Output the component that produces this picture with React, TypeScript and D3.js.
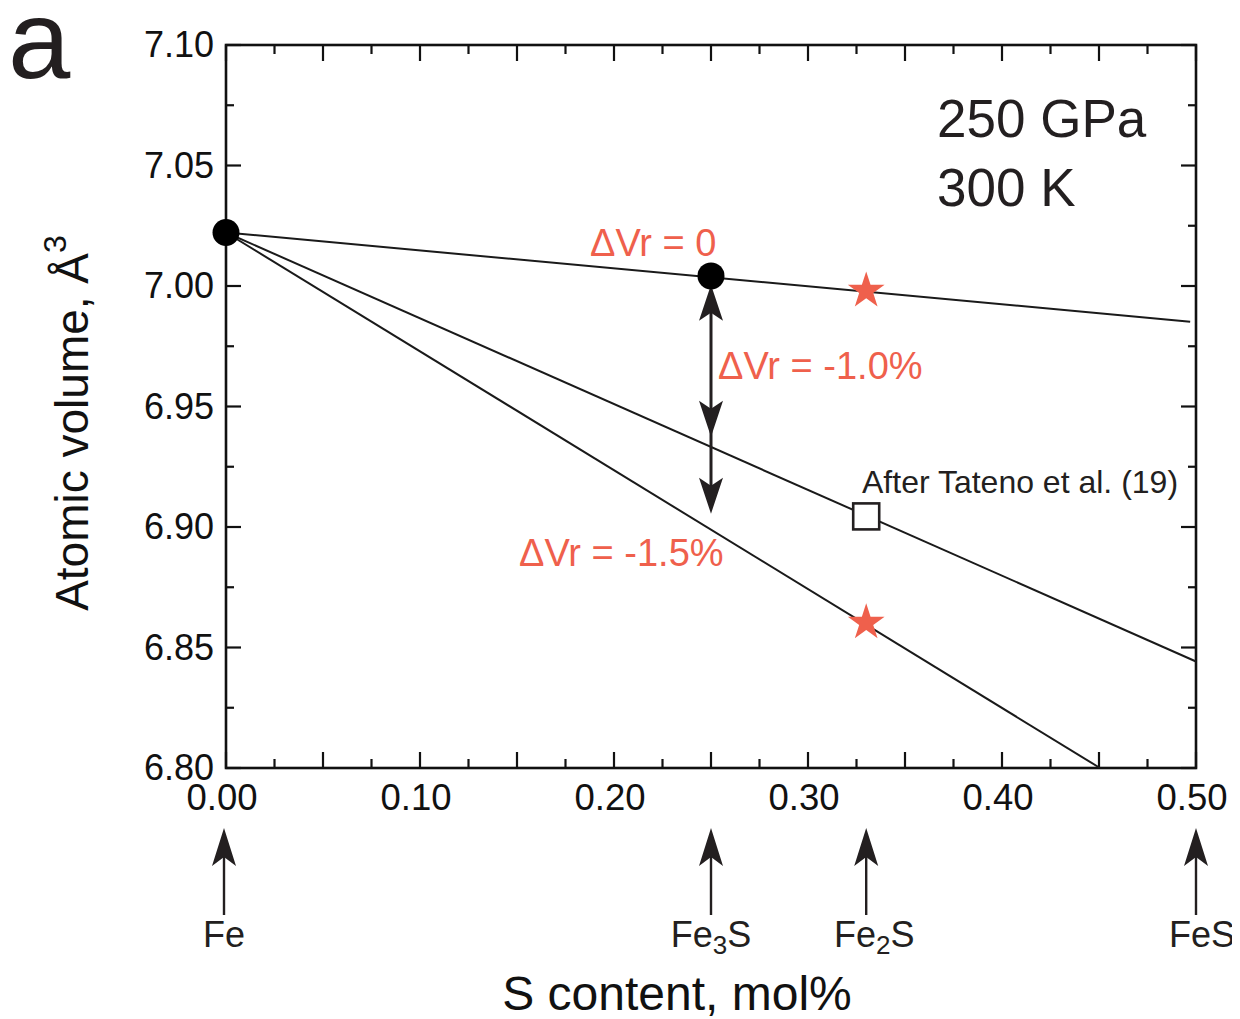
import React from "react";
import * as d3 from "d3";

// ---- data ----
const xDomain = [0, 0.5];
const yDomain = [6.8, 7.1];
const xMajorTicks = [0, 0.1, 0.2, 0.3, 0.4, 0.5];
const yMajorTicks = [6.8, 6.85, 6.9, 6.95, 7.0, 7.05, 7.1];

// lines: [x, y] endpoints
const lineZero = [[0, 7.0222], [0.497, 6.9852]];
const lineTateno = [[0, 7.0222], [0.5, 6.8442]];
const lineMinus15 = [[0, 7.0222], [0.4505, 6.8]];

const circlePoints = [[0, 7.0222], [0.25, 7.0042]];
const starPoints = [[0.33, 6.998], [0.33, 6.8603]];
const squarePoints = [[0.33, 6.9044]];

// double arrow at Fe3S: top tip, middle tip, bottom tip
const arrowX = 0.25;
const arrowTop = 7.0005;
const arrowMid = 6.9375;
const arrowBottom = 6.9055;

const compounds = [
  { x: 0, name: "Fe", sub: "" },
  { x: 0.25, name: "Fe", sub: "3", after: "S" },
  { x: 0.33, name: "Fe", sub: "2", after: "S" },
  { x: 0.5, name: "FeS", sub: "" },
];

const RED = "#EF604C";
const FONT = "'Liberation Sans', Arial, Helvetica, sans-serif";

function arrowHead(tipX: number, tipY: number, dir: number, len = 36, w = 24, notch = 8) {
  // dir: -1 pointing up, +1 pointing down
  const p = d3.path();
  p.moveTo(tipX, tipY);
  p.lineTo(tipX + w / 2, tipY - dir * len);
  p.lineTo(tipX, tipY - dir * (len - notch));
  p.lineTo(tipX - w / 2, tipY - dir * len);
  p.closePath();
  return p.toString();
}

export default function App() {
  const W = 1240, H = 1019;
  const x = d3.scaleLinear().domain(xDomain).range([226, 1196]);
  const y = d3.scaleLinear().domain(yDomain).range([768, 45]);
  const line = d3.line<number[]>().x((d) => x(d[0])).y((d) => y(d[1]));

  const xMinor = d3.range(0, 0.5001, 0.025);
  const yMinor = d3.range(6.8, 7.1001, 0.025);
  const isMajorX = (v: number) => Math.abs(v / 0.05 - Math.round(v / 0.05)) < 1e-6;
  const isMajorY = (v: number) => Math.abs((v - 6.8) / 0.05 - Math.round((v - 6.8) / 0.05)) < 1e-6;

  const star = d3.symbol().type(d3.symbolStar).size(420)();

  const ax = x(arrowX);

  return (
    <svg width={W} height={H} style={{ display: "block", marginTop: -8, marginLeft: -8 }} fontFamily={FONT}>
      <rect width={W} height={H} fill="white" />
      <text x={8} y={78} fontSize={112} fill="#231f20">a</text>

      {/* ticks */}
      {xMinor.map((v, i) => {
        const len = isMajorX(v) ? 16 : 9;
        return (
          <g key={"xt" + i} stroke="#111" strokeWidth={2.2}>
            <line x1={x(v)} x2={x(v)} y1={768} y2={768 - len} />
            <line x1={x(v)} x2={x(v)} y1={45} y2={45 + len} />
          </g>
        );
      })}
      {yMinor.map((v, i) => {
        const len = isMajorY(v) ? 15 : 8;
        return (
          <g key={"yt" + i} stroke="#111" strokeWidth={2.2}>
            <line x1={226} x2={226 + len} y1={y(v)} y2={y(v)} />
            <line x1={1196} x2={1196 - len} y1={y(v)} y2={y(v)} />
          </g>
        );
      })}
      {/* frame */}
      <rect x={226} y={45} width={970} height={723} fill="none" stroke="#111" strokeWidth={2.6} />

      {/* tick labels */}
      {xMajorTicks.map((v) => (
        <text key={"xl" + v} x={x(v) - 4} y={810} fontSize={36.5} textAnchor="middle" fill="#111">
          {v.toFixed(2)}
        </text>
      ))}
      {yMajorTicks.map((v) => (
        <text key={"yl" + v} x={214} y={y(v) + 12} fontSize={36} textAnchor="end" fill="#111">
          {v.toFixed(2)}
        </text>
      ))}

      {/* data lines */}
      {[lineZero, lineTateno, lineMinus15].map((l, i) => (
        <path key={"l" + i} d={line(l) || ""} fill="none" stroke="#1a1a1a" strokeWidth={2} />
      ))}

      {/* double arrow */}
      <line x1={ax} x2={ax} y1={y(arrowTop) + 20} y2={y(arrowBottom) - 20} stroke="#231f20" strokeWidth={3} />
      <path d={arrowHead(ax, y(arrowTop), -1)} fill="#231f20" />
      <path d={arrowHead(ax, y(arrowMid), 1)} fill="#231f20" />
      <path d={arrowHead(ax, y(arrowBottom), 1)} fill="#231f20" />

      {/* markers */}
      {circlePoints.map((p, i) => (
        <circle key={"c" + i} cx={x(p[0])} cy={y(p[1])} r={13.5} fill="#000" />
      ))}
      {starPoints.map((p, i) => (
        <path key={"s" + i} d={star || ""} transform={`translate(${x(p[0])},${y(p[1])})`} fill={RED} />
      ))}
      {squarePoints.map((p, i) => (
        <rect key={"q" + i} x={x(p[0]) - 13} y={y(p[1]) - 13} width={26} height={26} fill="white" stroke="#231f20" strokeWidth={2.6} />
      ))}

      {/* annotations */}
      <text x={590} y={256} fontSize={38} fill={RED}>ΔVr = 0</text>
      <text x={718} y={379} fontSize={38} fill={RED}>ΔVr = -1.0%</text>
      <text x={519} y={566} fontSize={38} fill={RED}>ΔVr = -1.5%</text>
      <text x={862} y={493} fontSize={32} fill="#231f20">After Tateno et al. (19)</text>
      <text x={937} y={137} fontSize={53} fill="#231f20">250 GPa</text>
      <text x={937} y={206} fontSize={53} fill="#231f20">300 K</text>

      {/* compound arrows */}
      {compounds.map((c, i) => {
        const cx = x(c.x) - (i === 0 ? 2 : 0);
        return (
          <g key={"cmp" + i}>
            <line x1={cx} x2={cx} y1={915} y2={850} stroke="#231f20" strokeWidth={2.4} />
            <path d={arrowHead(cx, 828, -1, 38, 24, 9)} fill="#231f20" />
            <text x={cx + (i === 0 ? 0 : i === 3 ? 6 : i === 2 ? 8 : 0)} y={947} fontSize={36} textAnchor="middle" fill="#231f20">
              {c.name}
              {c.sub ? <tspan fontSize={26} dy={7}>{c.sub}</tspan> : null}
              {c.after ? <tspan dy={-7}>{c.after}</tspan> : null}
            </text>
          </g>
        );
      })}

      {/* axis titles */}
      <text x={677} y={1010} fontSize={48} textAnchor="middle" fill="#111">S content, mol%</text>
      <text transform="translate(88,423) rotate(-90)" fontSize={46} textAnchor="middle" fill="#111">
        Atomic volume, Å<tspan fontSize={32} dy={-22}>3</tspan>
      </text>
    </svg>
  );
}
